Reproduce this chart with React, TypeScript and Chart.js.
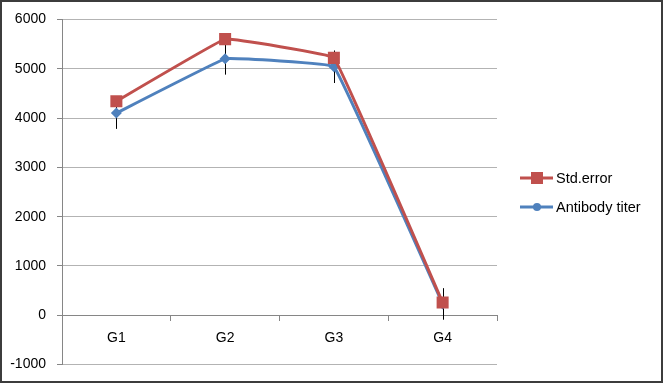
import { useEffect, useRef } from 'react';
import { Chart, registerables } from 'chart.js';

Chart.register(...registerables);

const categories = ['G1', 'G2', 'G3', 'G4'];
const stdErrorSeries = [4340, 5600, 5220, 260];
const antibodyTiter = [4100, 5200, 5040, 230];
const errorAmounts = [320, 320, 330, 320];
const yMin = -1000;
const yMax = 6000;
const yStep = 1000;

const RED = '#C0504D';
const BLUE = '#4F81BD';
const FONT = "'Liberation Sans', Arial, sans-serif";

const errorBarPlugin = {
  id: 'errorBars',
  beforeDatasetsDraw(chart: any) {
    const ctx = chart.ctx;
    const meta = chart.getDatasetMeta(1);
    const ys = chart.scales.y;
    ctx.save();
    ctx.strokeStyle = '#000';
    ctx.lineWidth = 1;
    meta.data.forEach((pt: any, i: number) => {
      const x = Math.round(pt.x) + 0.5;
      ctx.beginPath();
      ctx.moveTo(x, ys.getPixelForValue(antibodyTiter[i] + errorAmounts[i]));
      ctx.lineTo(x, ys.getPixelForValue(antibodyTiter[i] - errorAmounts[i]));
      ctx.stroke();
    });
    ctx.restore();
  },
};

const legendPlugin = {
  id: 'customLegend',
  afterDraw(chart: any) {
    const ctx = chart.ctx;
    const area = chart.chartArea;
    const mid = (area.top + area.bottom) / 2;
    const x0 = area.right + 23;
    const items = [
      { label: 'Std.error', color: RED, shape: 'rect', y: mid - 14 },
      { label: 'Antibody titer', color: BLUE, shape: 'circle', y: mid + 15 },
    ];
    ctx.save();
    items.forEach((it) => {
      ctx.strokeStyle = it.color;
      ctx.lineWidth = 3;
      ctx.beginPath();
      ctx.moveTo(x0, it.y);
      ctx.lineTo(x0 + 33, it.y);
      ctx.stroke();
      ctx.fillStyle = it.color;
      const cx = x0 + 17;
      if (it.shape === 'rect') {
        ctx.fillRect(cx - 6, it.y - 6, 12, 12);
      } else {
        ctx.beginPath();
        ctx.arc(cx, it.y, 4, 0, Math.PI * 2);
        ctx.fill();
      }
      ctx.fillStyle = '#000';
      ctx.font = `14.5px ${FONT}`;
      ctx.textAlign = 'left';
      ctx.textBaseline = 'middle';
      ctx.fillText(it.label, x0 + 36, it.y + 1);
    });
    ctx.restore();
  },
};

export default function App() {
  const canvasRef = useRef<HTMLCanvasElement | null>(null);

  useEffect(() => {
    document.body.style.margin = '0';
    const canvas = canvasRef.current;
    if (!canvas) return;
    const chart = new Chart(canvas, {
      type: 'line',
      data: {
        labels: categories,
        datasets: [
          {
            label: 'Std.error',
            data: stdErrorSeries,
            borderColor: RED,
            backgroundColor: RED,
            borderWidth: 3,
            pointStyle: 'rect',
            pointRadius: 8.5,
            pointBorderWidth: 0,
            pointBackgroundColor: RED,
            tension: 0.05,
          },
          {
            label: 'Antibody titer',
            data: antibodyTiter,
            borderColor: BLUE,
            backgroundColor: BLUE,
            borderWidth: 3,
            pointStyle: 'rectRot',
            pointRadius: 5.5,
            pointBorderWidth: 0,
            pointBackgroundColor: BLUE,
            tension: 0.05,
          },
        ],
      },
      options: {
        responsive: false,
        animation: false,
        devicePixelRatio: 1,
        layout: { padding: { top: 0, bottom: 0, right: 166, left: 0 } },
        plugins: {
          legend: { display: false },
          tooltip: { enabled: false },
        },
        font: { family: FONT },
        scales: {
          x: {
            type: 'category',
            position: { y: 0 } as any,
            offset: true,
            grid: {
              offset: true,
              drawOnChartArea: false,
              drawTicks: true,
              tickLength: 5,
              color: '#868686',
            },
            border: { display: true, color: '#868686', width: 1 },
            ticks: {
              color: '#000',
              font: { family: FONT, size: 14 },
              padding: 9,
              maxRotation: 0,
            },
          },
          y: {
            min: yMin,
            max: yMax,
            afterFit(scale: any) {
              scale.width = 62;
            },
            grid: {
              color: '#b3b3b3',
              tickColor: '#868686',
              tickLength: 5,
            },
            border: { display: true, color: '#868686', width: 1 },
            ticks: {
              stepSize: yStep,
              color: '#000',
              font: { family: FONT, size: 14 },
              padding: 11,
              callback: (v: any) => String(v),
            },
          },
        },
      },
      plugins: [errorBarPlugin, legendPlugin],
    });
    return () => chart.destroy();
  }, []);

  return (
    <div style={{ position: 'relative', width: 663, height: 383, overflow: 'hidden', background: '#fff' }}>
      <canvas
        ref={canvasRef}
        width={663}
        height={384}
        style={{ position: 'absolute', left: 0, top: 0, display: 'block', width: 663, height: 384 }}
      />
      <div
        style={{
          position: 'absolute',
          left: 0,
          top: 0,
          width: 663,
          height: 383,
          border: '2px solid #3c3c3c',
          boxSizing: 'border-box',
          pointerEvents: 'none',
        }}
      />
    </div>
  );
}
